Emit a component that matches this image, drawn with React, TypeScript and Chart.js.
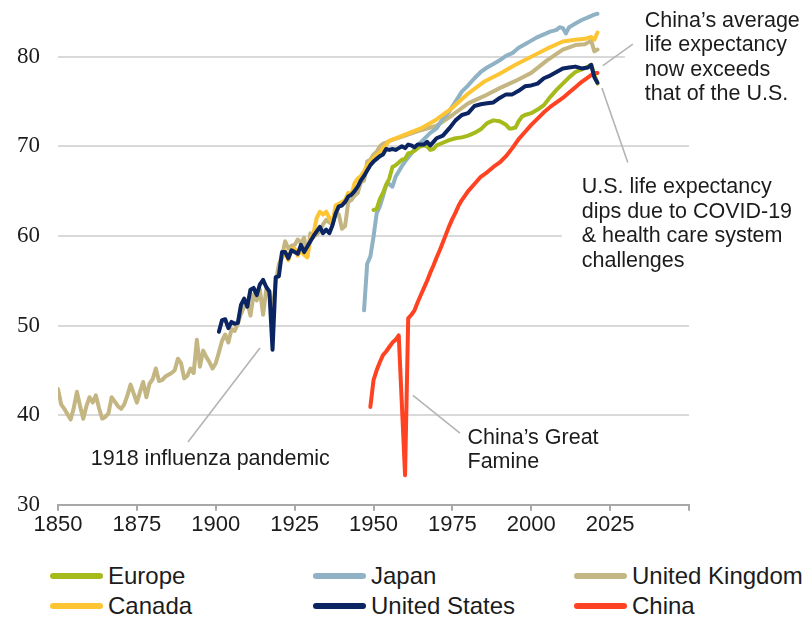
import { useEffect, useRef } from "react";
import { Chart, registerables } from "chart.js";

Chart.register(...registerables);

// ---- data -------------------------------------------------------------
const span = (a: number, b: number) => {
  const out: number[] = [];
  for (let y = a; y <= b; y++) out.push(y);
  return out;
};

const ukYears = [...span(1850, 1955), 1960, 1965, 1970, 1975, 1980, 1985, 1990, 1995, 2000, 2005, 2010, 2014, 2017, 2019, 2020, 2021];
const ukLife = [
  42.9, 41.2, 40.7, 40.1, 39.5, 40.8, 42.6, 41.0, 39.6, 41.0,
  42.0, 41.4, 42.2, 40.8, 39.6, 39.8, 40.2, 42.0, 41.5, 41.0,
  40.7, 41.2, 42.2, 43.4, 42.4, 41.4, 42.6, 43.7, 42.0, 43.5,
  44.0, 45.2, 43.8, 43.9, 44.3, 44.5, 44.7, 45.0, 46.3, 45.8,
  44.1, 44.4, 45.2, 44.7, 48.4, 45.4, 47.2, 46.5, 45.9, 45.2,
  45.8, 47.0, 48.3, 49.0, 48.1, 49.6, 49.4, 50.2, 51.3, 52.1,
  52.6, 51.1, 53.5, 52.8, 54.0, 51.2, 54.0, 53.6, 51.5, 54.8,
  56.8, 57.8, 59.4, 58.6, 58.9, 59.0, 59.6, 59.2, 59.8, 57.7,
  60.3, 59.9, 60.2, 60.5, 61.3, 61.8, 61.5, 61.3, 62.6, 62.4,
  60.8, 61.1, 63.8, 64.0, 64.5, 64.8, 66.0, 66.2, 68.3, 68.5,
  69.1, 69.4, 70.0, 70.3, 70.4, 70.6,
  71.2, 71.8, 72.3, 73.5, 74.8, 75.6, 76.5, 77.3, 78.2, 79.6, 80.8, 81.3, 81.4, 81.8, 80.6, 80.8,
];

const usYears = [...span(1901, 1970), 1972, 1974, 1976, 1978, 1980, 1982, 1984, 1986, 1988, 1990, 1992, 1994, 1996, 1998, 2000, 2002, 2004, 2006, 2008, 2010, 2012, 2014, 2016, 2018, 2019, 2020, 2021];
const usLife = [
  49.3, 50.6, 50.7, 49.7, 50.4, 50.2, 50.3, 52.3, 53.0,
  52.1, 54.0, 54.2, 53.4, 54.6, 55.1, 54.3, 53.8, 47.3, 55.4,
  55.5, 58.2, 58.2, 57.5, 58.4, 58.2, 58.0, 59.0, 58.2, 58.8,
  59.4, 60.0, 60.5, 61.0, 60.3, 60.7, 60.3, 61.2, 62.5, 63.3,
  63.4, 63.8, 64.4, 64.6, 65.0, 65.5, 66.2, 66.7, 67.3, 67.9,
  68.3, 68.6, 68.9, 69.1, 69.7, 69.6, 69.7, 69.6, 69.8, 70.0,
  69.8, 70.2, 70.1, 69.9, 70.2, 70.2, 70.2, 70.5, 70.1, 70.5,
  70.9,
  71.2, 72.0, 72.9, 73.5, 73.7, 74.5, 74.7, 74.8, 74.9, 75.4, 75.8, 75.8, 76.2, 76.7, 76.8, 77.0, 77.6, 77.9, 78.3, 78.7, 78.8, 78.9, 78.7, 78.8, 79.1, 77.7, 77.1,
];

const canadaYears = [...span(1921, 1953), 1955, 1960, 1965, 1970, 1975, 1980, 1985, 1990, 1995, 2000, 2005, 2010, 2014, 2017, 2019, 2020, 2021];
const canadaLife = [
  57.5, 58.3, 57.3, 58.5, 58.6, 57.8, 58.4, 57.9, 57.6,
  59.6, 60.3, 62.0, 62.7, 62.4, 62.7, 62.0, 61.5, 63.4, 63.6,
  63.8, 64.0, 64.8, 64.6, 65.9, 66.4, 66.7, 67.2, 67.9, 68.3,
  68.7, 69.0, 69.3, 69.8,
  70.6, 71.3, 72.0, 73.0, 74.3, 75.9, 77.2, 78.1, 79.1, 80.0, 80.9, 81.7, 81.9, 82.0, 82.2, 81.9, 82.7,
];

const japanYears = [...span(1947, 1960), 1962, 1964, 1966, 1968, 1970, 1972, 1974, 1976, 1978, 1980, 1982, 1984, 1986, 1988, 1990, 1992, 1994, 1996, 1998, 2000, 2002, 2004, 2006, 2008, 2009, 2010, 2011, 2012, 2014, 2016, 2018, 2020, 2021];
const japanLife = [
  51.7, 56.9, 57.7, 59.9, 62.5, 63.3, 64.4, 65.7, 65.8, 65.5, 66.6, 67.2, 67.8, 68.3,
  69.2, 70.1, 70.8, 71.5, 72.0, 73.1, 73.9, 75.0, 76.1, 76.8, 77.6, 78.3, 78.8, 79.2,
  79.6, 80.1, 80.4, 81.0, 81.4, 81.8, 82.2, 82.5, 82.8, 83.0, 83.3, 83.2, 82.6, 83.3,
  83.7, 84.1, 84.4, 84.7, 84.8,
];

const europeYears = [...span(1950, 1970), 1972, 1974, 1976, 1978, 1980, 1982, 1984, 1986, 1988, 1990, 1992, 1993, 1994, 1995, 1996, 1997, 1998, 2000, 2002, 2004, 2006, 2008, 2010, 2012, 2014, 2016, 2018, 2019, 2020, 2021];
const europeLife = [
  62.9, 63.0, 64.1, 64.8, 65.7, 66.4, 67.7, 67.9, 68.2, 68.5,
  68.6, 69.2, 69.3, 69.5, 69.8, 70.0, 70.1, 70.0, 69.6, 69.7, 70.1,
  70.4, 70.7, 70.9, 71.0, 71.2, 71.5, 71.9, 72.6, 72.9, 72.8, 72.4, 72.0, 72.0, 72.1,
  72.8, 73.3, 73.5, 73.7, 74.1, 74.6, 75.5, 76.3, 77.0, 77.7, 78.3, 78.6, 78.9, 79.1, 78.0, 77.0,
];

const chinaYears = [...span(1949, 1958), ...span(1960, 1978), 1980, 1982, 1984, 1986, 1988, 1990, 1992, 1994, 1996, 1998, 2000, 2002, 2004, 2006, 2008, 2010, 2012, 2014, 2016, 2018, 2020, 2021];
const chinaLife = [
  40.9, 43.9, 45.0, 45.9, 46.7, 47.1, 47.6, 48.1, 48.4, 48.9,
  33.3, 50.8, 51.2, 51.7, 52.6, 53.4, 54.2, 55.0, 55.9, 56.7,
  57.6, 58.4, 59.3, 60.2, 61.1, 61.9, 62.6, 63.4, 64.0,
  65.0, 65.8, 66.6, 67.1, 67.7, 68.2, 68.9, 69.8, 70.8, 71.6,
  72.4, 73.1, 73.8, 74.4, 74.9, 75.4, 76.0, 76.6, 77.2, 77.7, 78.2, 78.2,
];

const yTicks = [30, 40, 50, 60, 70, 80];

// legend order is row-major over three columns
const legendItems = [
  { label: "Europe", color: "#a6ba1c" },
  { label: "Japan", color: "#8fb2c4" },
  { label: "United Kingdom", color: "#c4b682" },
  { label: "Canada", color: "#fdc534" },
  { label: "United States", color: "#0b2462" },
  { label: "China", color: "#ff4322" },
];

// callouts: first-line anchor and leader line, both in data units
const notes = [
  { lines: ["China’s average", "life expectancy", "now exceeds", "that of the U.S."], year: 2036.0, value: 84.0, box: true },
  { lines: ["U.S. life expectancy", "dips due to COVID-19", "& health care system", "challenges"], year: 2016.0, value: 65.4, box: true },
  { lines: ["1918 influenza pandemic"], year: 1860.4, value: 35.1, box: false },
  { lines: ["China’s Great", "Famine"], year: 1979.8, value: 37.45, box: false },
];
const leaders = [
  { from: [2032.2, 81.4], to: [2022.7, 79.0] },
  { from: [2022.4, 76.5], to: [2030.6, 68.2] },
  { from: [1891.2, 37.0], to: [1914.0, 47.5] },
  { from: [1962.5, 42.2], to: [1977.4, 38.0] },
];

const pts = (xs: number[], ys: number[]) => xs.map((x, i) => ({ x, y: ys[i] }));

const SANS = '"Liberation Sans", Arial, sans-serif';
const LINE_H = 24.5;

const notesPlugin = {
  id: "notes",
  afterDraw(chart: any) {
    const { ctx } = chart;
    const xs = chart.scales.x;
    const ys = chart.scales.y;
    ctx.save();
    ctx.font = `21.5px ${SANS}`;
    ctx.textBaseline = "middle";
    ctx.textAlign = "left";
    for (const n of notes) {
      const px = xs.getPixelForValue(n.year);
      const py = ys.getPixelForValue(n.value);
      if (n.box) {
        ctx.fillStyle = "#ffffff";
        ctx.fillRect(px - 20, py - LINE_H / 2 - 4, chart.width - px + 20, n.lines.length * LINE_H + 8);
      }
      ctx.fillStyle = "#1c1c1c";
      n.lines.forEach((t, i) => ctx.fillText(t, px, py + i * LINE_H));
    }
    ctx.strokeStyle = "#b4b4b4";
    ctx.lineWidth = 1.6;
    for (const l of leaders) {
      ctx.beginPath();
      ctx.moveTo(xs.getPixelForValue(l.from[0]), ys.getPixelForValue(l.from[1]));
      ctx.lineTo(xs.getPixelForValue(l.to[0]), ys.getPixelForValue(l.to[1]));
      ctx.stroke();
    }
    ctx.restore();
  },
};

const line = (label: string, color: string, data: { x: number; y: number }[]) => ({
  label,
  data,
  borderColor: color,
  backgroundColor: color,
  borderWidth: 4,
  pointRadius: 0,
  tension: 0,
  borderJoinStyle: "round" as const,
  borderCapStyle: "round" as const,
});

export default function App() {
  const ref = useRef<HTMLCanvasElement | null>(null);

  useEffect(() => {
    if (!ref.current) return;
    const color = (name: string) => legendItems.find((l) => l.label === name)!.color;
    const chart = new Chart(ref.current, {
      type: "line",
      data: {
        // first dataset is painted last (on top)
        datasets: [
          line("United States", color("United States"), pts(usYears, usLife)),
          line("China", color("China"), pts(chinaYears, chinaLife)),
          line("Canada", color("Canada"), pts(canadaYears, canadaLife)),
          line("Europe", color("Europe"), pts(europeYears, europeLife)),
          line("Japan", color("Japan"), pts(japanYears, japanLife)),
          line("United Kingdom", color("United Kingdom"), pts(ukYears, ukLife)),
        ],
      },
      options: {
        animation: false,
        responsive: false,
        layout: { padding: { top: 3, right: 114, left: 0, bottom: 0 } },
        plugins: { legend: { display: false }, tooltip: { enabled: false } },
        scales: {
          x: {
            type: "linear",
            min: 1850,
            max: 2050,
            afterFit: (s: any) => {
              s.height = 45.3;
              s.paddingLeft = 0;
              s.paddingRight = 0;
            },
            ticks: {
              stepSize: 25,
              padding: 1,
              maxRotation: 0,
              autoSkip: false,
              color: "#1c1c1c",
              font: { family: SANS, size: 22 },
              callback: (v: any) => (Number(v) === 2050 ? "" : String(v)),
            },
            grid: { drawOnChartArea: false, drawTicks: true, tickLength: 6, color: "#a8a8a8", lineWidth: 2 },
            border: { display: true, color: "#a8a8a8", width: 2 },
          },
          y: {
            type: "linear",
            min: 30,
            max: 86,
            afterFit: (s: any) => {
              s.width = 58;
              s.paddingTop = 0;
              s.paddingBottom = 0;
            },
            afterBuildTicks: (s: any) => {
              s.ticks = yTicks.map((value) => ({ value }));
            },
            ticks: {
              padding: 18,
              color: "#1c1c1c",
              font: { family: '"Liberation Serif", "Times New Roman", serif', size: 23 },
            },
            grid: { drawTicks: false, color: "#d9d9d9", lineWidth: 2 },
            border: { display: false },
          },
        },
      },
      plugins: [notesPlugin],
    });
    return () => chart.destroy();
  }, []);

  const cols = [50, 313, 574];
  return (
    <div style={{ position: "absolute", left: 0, top: 0, width: 803, height: 619, background: "#fff", overflow: "hidden" }}>
      <canvas ref={ref} width={803} height={550} style={{ display: "block", width: 803, height: 550 }} />
      {legendItems.map((it, i) => (
        <div
          key={it.label}
          style={{
            position: "absolute",
            left: cols[i % 3],
            top: 561 + Math.floor(i / 3) * 30,
            height: 30,
            display: "flex",
            alignItems: "center",
            whiteSpace: "nowrap",
            fontFamily: SANS,
            fontSize: 24,
            color: "#1c1c1c",
          }}
        >
          <span style={{ display: "inline-block", width: 53, height: 6, borderRadius: 3, background: it.color, marginRight: 5 }} />
          <span>{it.label}</span>
        </div>
      ))}
    </div>
  );
}
